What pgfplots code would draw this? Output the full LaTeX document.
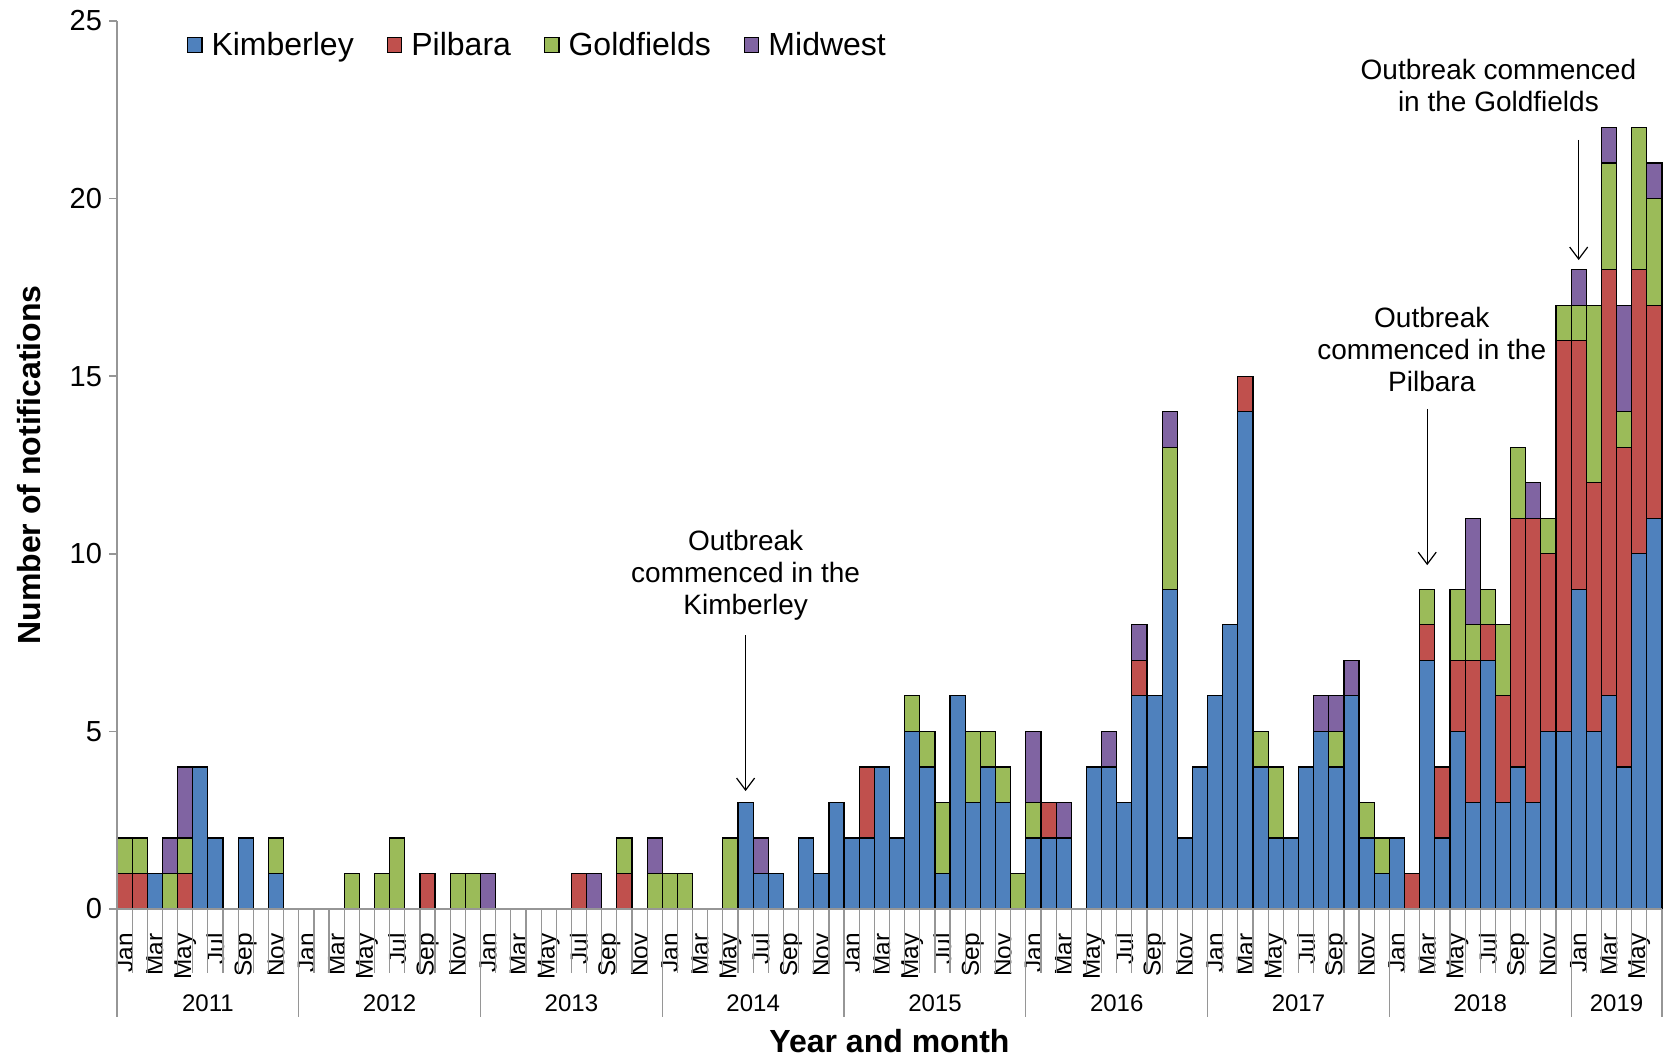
\documentclass[border=0pt]{standalone}
\usepackage{fontspec}
\setmainfont{Liberation Sans}
\usepackage{pgfplots}
\usepackage{pgfplotstable}
\pgfplotsset{compat=1.18}
\usetikzlibrary{arrows.meta}

\definecolor{kim}{RGB}{79,129,189}
\definecolor{pil}{RGB}{192,80,77}
\definecolor{gold}{RGB}{155,187,89}
\definecolor{mid}{RGB}{128,100,162}
\definecolor{axgray}{RGB}{150,150,150}

% month index (0 = Jan 2011), notifications by region
\pgfplotstableread{
x K P G M
0 0 1 1 0
1 0 1 1 0
2 1 0 0 0
3 0 0 1 1
4 0 1 1 2
5 4 0 0 0
6 2 0 0 0
7 0 0 0 0
8 2 0 0 0
9 0 0 0 0
10 1 0 1 0
11 0 0 0 0
12 0 0 0 0
13 0 0 0 0
14 0 0 0 0
15 0 0 1 0
16 0 0 0 0
17 0 0 1 0
18 0 0 2 0
19 0 0 0 0
20 0 1 0 0
21 0 0 0 0
22 0 0 1 0
23 0 0 1 0
24 0 0 0 1
25 0 0 0 0
26 0 0 0 0
27 0 0 0 0
28 0 0 0 0
29 0 0 0 0
30 0 1 0 0
31 0 0 0 1
32 0 0 0 0
33 0 1 1 0
34 0 0 0 0
35 0 0 1 1
36 0 0 1 0
37 0 0 1 0
38 0 0 0 0
39 0 0 0 0
40 0 0 2 0
41 3 0 0 0
42 1 0 0 1
43 1 0 0 0
44 0 0 0 0
45 2 0 0 0
46 1 0 0 0
47 3 0 0 0
48 2 0 0 0
49 2 2 0 0
50 4 0 0 0
51 2 0 0 0
52 5 0 1 0
53 4 0 1 0
54 1 0 2 0
55 6 0 0 0
56 3 0 2 0
57 4 0 1 0
58 3 0 1 0
59 0 0 1 0
60 2 0 1 2
61 2 1 0 0
62 2 0 0 1
63 0 0 0 0
64 4 0 0 0
65 4 0 0 1
66 3 0 0 0
67 6 1 0 1
68 6 0 0 0
69 9 0 4 1
70 2 0 0 0
71 4 0 0 0
72 6 0 0 0
73 8 0 0 0
74 14 1 0 0
75 4 0 1 0
76 2 0 2 0
77 2 0 0 0
78 4 0 0 0
79 5 0 0 1
80 4 0 1 1
81 6 0 0 1
82 2 0 1 0
83 1 0 1 0
84 2 0 0 0
85 0 1 0 0
86 7 1 1 0
87 2 2 0 0
88 5 2 2 0
89 3 4 1 3
90 7 1 1 0
91 3 3 2 0
92 4 7 2 0
93 3 8 0 1
94 5 5 1 0
95 5 11 1 0
96 9 7 1 1
97 5 7 5 0
98 6 12 3 1
99 4 9 1 3
100 10 8 4 0
101 11 6 3 1
}\notif

\tikzset{
  yearlab/.style={font=\fontsize{12}{14}\selectfont, yshift=-47pt},
  note/.style={align=center, font=\fontsize{14}{16}\selectfont},
  arr/.style={-{Straight Barb[length=6pt,width=9pt]}, line width=0.6pt},
  sep/.style={draw=axgray, line width=0.6pt},
}

\begin{document}
\begin{tikzpicture}
\useasboundingbox (-58.5pt,-74pt) rectangle (774pt,454.5pt);
\begin{axis}[
  scale only axis, width=772.5pt, height=444pt,
  ybar stacked, bar width=1,
  xmin=-0.5, xmax=101.5, ymin=0, ymax=25,
  axis on top, clip=false,
  axis x line*=bottom, axis y line*=left,
  axis line style={axgray, line width=0.8pt},
  tick align=outside, major tick length=4pt,
  ytick={0,5,...,25},
  ytick style={axgray, line width=0.8pt},
  yticklabel style={font=\fontsize{14.5}{17}\selectfont},
  /pgf/number format/assume math mode=true,
  xtick={0,2,...,100},
  xticklabels={Jan,Mar,May,Jul,Sep,Nov,Jan,Mar,May,Jul,Sep,Nov,Jan,Mar,May,Jul,Sep,Nov,
    Jan,Mar,May,Jul,Sep,Nov,Jan,Mar,May,Jul,Sep,Nov,Jan,Mar,May,Jul,Sep,Nov,
    Jan,Mar,May,Jul,Sep,Nov,Jan,Mar,May,Jul,Sep,Nov,Jan,Mar,May},
  xtick style={draw=none},
  xticklabel style={yshift=-8pt, rotate=90, anchor=east, inner sep=0pt, font=\fontsize{12.2}{14}\selectfont},
  xlabel={Year and month},
  ylabel={Number of notifications},
  xlabel style={at={(axis description cs:0.5,-0.1486)}, anchor=center, font=\bfseries\fontsize{16}{19}\selectfont},
  ylabel style={at={(axis description cs:-0.057,0.5)}, anchor=center, font=\bfseries\fontsize{16}{19}\selectfont},
  legend columns=4,
  legend image code/.code={\draw[#1] (0pt,-3.6pt) rectangle (7.2pt,3.6pt);},
  legend style={draw=none, fill=none, inner sep=0pt, at={(axis description cs:0.045,0.973)}, anchor=west,
    font=\fontsize{16}{19}\selectfont,
    /tikz/every odd column/.style={column sep=2.5pt},
    /tikz/every even column/.style={column sep=14.5pt}},
]
\addplot[fill=kim, draw=black, line width=0.6pt] table[x=x, y=K] {\notif};
\addplot[fill=pil, draw=black, line width=0.6pt] table[x=x, y=P] {\notif};
\addplot[fill=gold, draw=black, line width=0.6pt] table[x=x, y=G] {\notif};
\addplot[fill=mid, draw=black, line width=0.6pt] table[x=x, y=M] {\notif};
\legend{Kimberley,Pilbara,Goldfields,Midwest}

% year names
\node[yearlab] at (axis cs:5.5,0) {2011};
\node[yearlab] at (axis cs:17.5,0) {2012};
\node[yearlab] at (axis cs:29.5,0) {2013};
\node[yearlab] at (axis cs:41.5,0) {2014};
\node[yearlab] at (axis cs:53.5,0) {2015};
\node[yearlab] at (axis cs:65.5,0) {2016};
\node[yearlab] at (axis cs:77.5,0) {2017};
\node[yearlab] at (axis cs:89.5,0) {2018};
\node[yearlab] at (axis cs:98.5,0) {2019};

% outbreak annotations
\node[note] at (axis cs:41,9.4) {Outbreak\\commenced in the\\Kimberley};
\draw[arr] (axis cs:41,7.71) -- (axis cs:41,3.32);
\node[note] at (axis cs:86.3,15.74) {Outbreak\\commenced in the\\Pilbara};
\draw[arr] (axis cs:86,14.08) -- (axis cs:86,9.68);
\node[note] at (axis cs:90.7,23.18) {Outbreak commenced\\in the Goldfields};
\draw[arr] (axis cs:96,21.65) -- (axis cs:96,18.27);
\end{axis}
% category separators of the two-level axis (plot box 772.5pt wide, 102 months)
\foreach \i in {0,...,102} {
  \draw[sep] ({\i*7.573529pt},0pt) -- ++(0pt,-32pt);
}
\foreach \i in {0,12,24,36,48,60,72,84,96,102} {
  \draw[sep] ({\i*7.573529pt},0pt) -- ++(0pt,-54pt);
}
\end{tikzpicture}
\end{document}
